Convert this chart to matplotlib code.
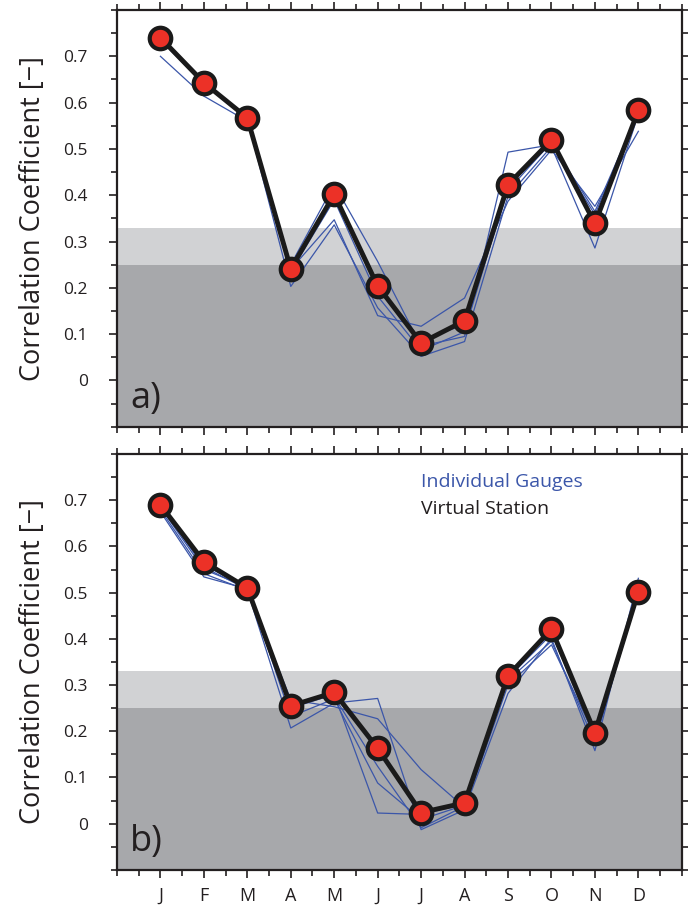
import numpy as np
import matplotlib
matplotlib.use("Agg")
import matplotlib.pyplot as plt
from matplotlib.ticker import MultipleLocator

plt.rcParams['font.family'] = ['Open Sans', 'DejaVu Sans']

months = ['J', 'F', 'M', 'A', 'M', 'J', 'J', 'A', 'S', 'O', 'N', 'D']

# panel a
virtual_a = [0.740, 0.643, 0.567, 0.241, 0.402, 0.204, 0.081, 0.129, 0.423, 0.519, 0.339, 0.583]
gauges_a = [
    [0.700, 0.614, 0.560, 0.240, 0.347, 0.140, 0.117, 0.178, 0.387, 0.498, 0.376, 0.538],
    [0.735, 0.640, 0.565, 0.203, 0.336, 0.157, 0.052, 0.084, 0.398, 0.505, 0.286, 0.575],
    [0.740, 0.645, 0.570, 0.250, 0.423, 0.257, 0.074, 0.095, 0.493, 0.509, 0.358, 0.580],
    [0.738, 0.640, 0.568, 0.245, 0.400, 0.196, 0.088, 0.120, 0.410, 0.515, 0.345, 0.585],
    [0.742, 0.648, 0.563, 0.235, 0.390, 0.182, 0.065, 0.105, 0.420, 0.512, 0.365, 0.580],
]

# panel b
virtual_b = [0.690, 0.567, 0.510, 0.255, 0.284, 0.163, 0.024, 0.045, 0.320, 0.421, 0.197, 0.502]
gauges_b = [
    [0.680, 0.541, 0.505, 0.207, 0.261, 0.271, -0.013, 0.030, 0.282, 0.401, 0.158, 0.531],
    [0.675, 0.534, 0.508, 0.268, 0.253, 0.227, 0.117, 0.035, 0.300, 0.387, 0.190, 0.505],
    [0.685, 0.550, 0.512, 0.232, 0.270, 0.088, 0.009, 0.040, 0.315, 0.410, 0.205, 0.500],
    [0.688, 0.560, 0.510, 0.250, 0.280, 0.023, 0.020, 0.042, 0.318, 0.415, 0.185, 0.495],
    [0.690, 0.555, 0.507, 0.262, 0.275, 0.124, -0.009, 0.038, 0.310, 0.395, 0.175, 0.510],
]

x = np.arange(1, 13)
red = '#ec3127'
blue = '#3b56a9'
dark = '#a7a8ab'
light = '#d1d2d4'
ink = '#231f20'

fig = plt.figure(figsize=(6.88, 9.08), dpi=100)
ax_a = fig.add_axes([0.170, 0.530, 0.821, 0.459])
ax_b = fig.add_axes([0.170, 0.042, 0.821, 0.458])

for ax, virt, gauges, lab in [(ax_a, virtual_a, gauges_a, 'a)'), (ax_b, virtual_b, gauges_b, 'b)')]:
    ax.set_xlim(0, 13)
    ax.set_ylim(-0.1, 0.8)
    ax.axhspan(-0.1, 0.25, color=dark, lw=0, zorder=0)
    ax.axhspan(0.25, 0.33, color=light, lw=0, zorder=0)
    for g in gauges:
        ax.plot(x, g, color=blue, lw=0.9, zorder=2)
    ax.plot(x, virt, color='#1a1a1a', lw=3.5, marker='o', ms=15.5,
            mfc=red, mec='#1a1a1a', mew=3, zorder=3)
    ax.text(0.3, -0.04, lab, fontsize=26, color=ink, va='center', ha='left')

    ax.xaxis.set_minor_locator(MultipleLocator(0.5))
    ax.yaxis.set_minor_locator(MultipleLocator(0.05))
    ax.set_xticks(x)
    ax.set_xticklabels(months)
    ax.set_yticks([0, 0.1, 0.2, 0.3, 0.4, 0.5, 0.6, 0.7])
    ax.set_yticklabels(['0', '0.1', '0.2', '0.3', '0.4', '0.5', '0.6', '0.7'])
    ax.tick_params(which='both', direction='out', top=True, right=True,
                   width=1.2, color=ink, labelcolor=ink)
    ax.tick_params(axis='y', which='major', length=6, pad=15, labelsize=12.5)
    ax.tick_params(axis='x', which='major', length=6, pad=6, labelsize=13)
    ax.tick_params(which='minor', length=4)
    for s in ax.spines.values():
        s.set_linewidth(1.6)
        s.set_color(ink)
    ax.set_ylabel('Correlation Coefficient [\u2212]', fontsize=19.5, color=ink, labelpad=12)

ax_a.tick_params(labelbottom=False)

ax_b.text(7.0, 0.739, 'Individual Gauges', color=blue, fontsize=14, va='center')
ax_b.text(7.0, 0.680, 'Virtual Station', color=ink, fontsize=14, va='center')

fig.savefig('out.png', dpi=100)
